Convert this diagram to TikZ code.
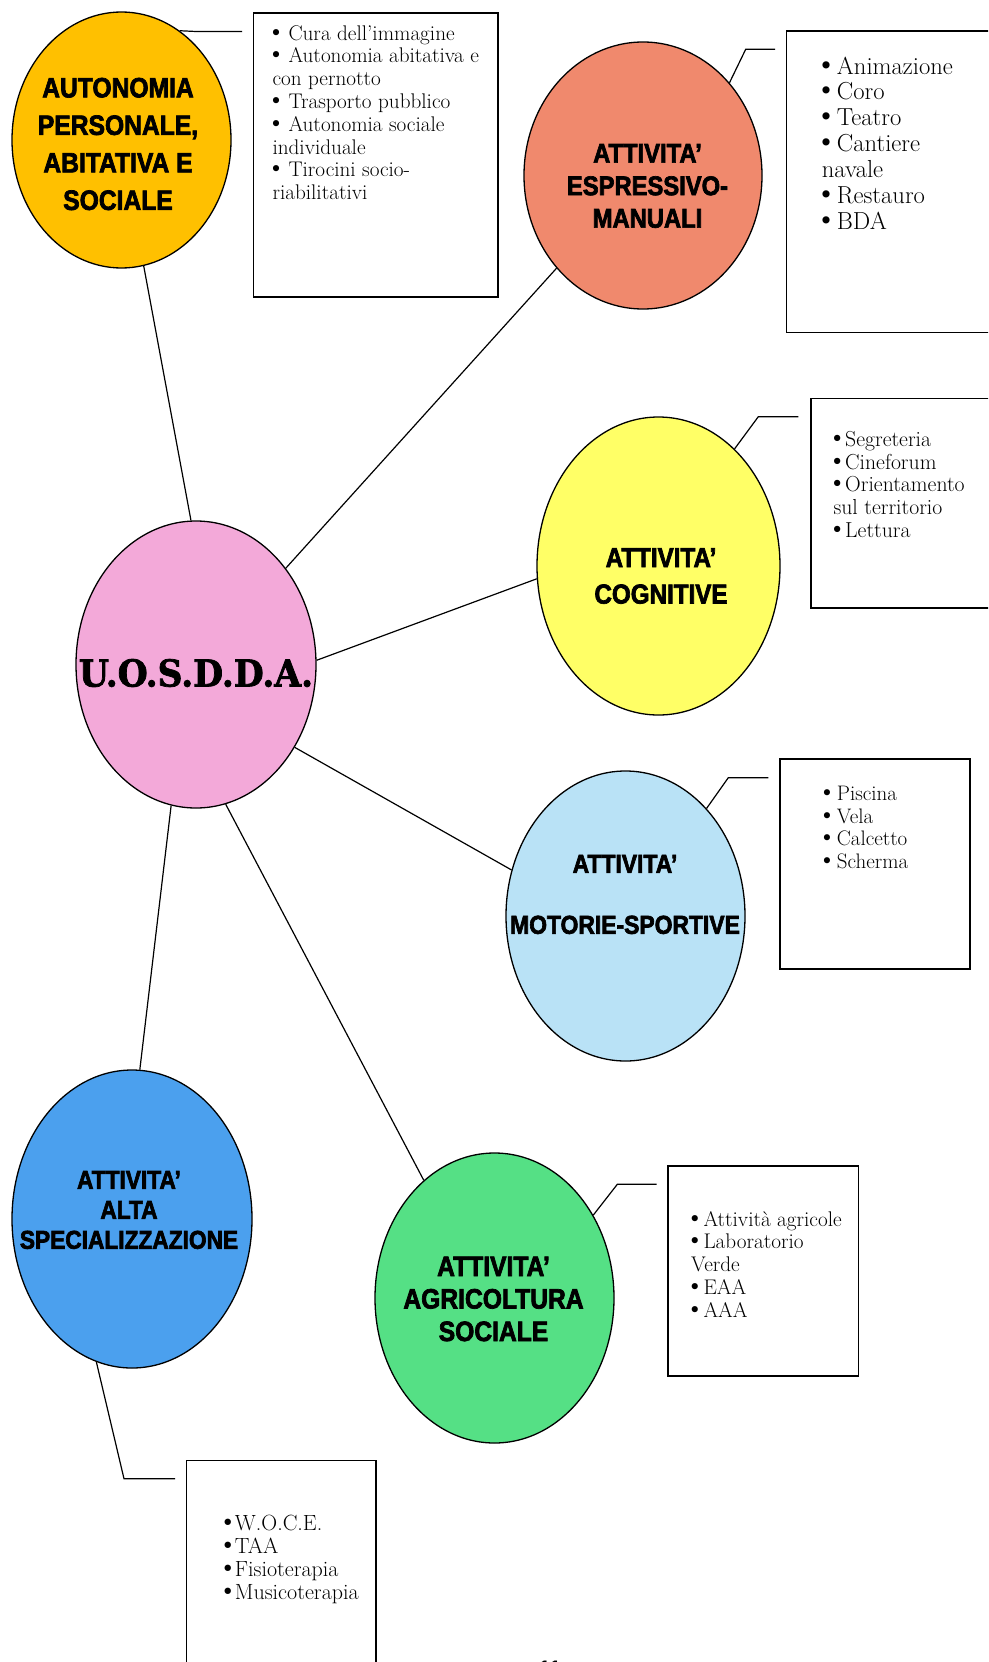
\documentclass[tikz,border=0pt]{standalone}
\usepackage{fontspec}
\usetikzlibrary{shapes.geometric}
\newfontfamily\headfont[FakeStretch=0.88, BoldFeatures={FakeBold=2.5}]{Liberation Sans}
\newfontfamily\uosfont[FakeStretch=0.93, BoldFeatures={FakeBold=2}]{DejaVu Serif}
\newfontfamily\pnfont{Liberation Sans}
\newfontfamily\bulfont{DejaVu Serif}
\newcommand\bul[1]{\makebox[#1][l]{\bulfont\kern-0.12em •}}
\definecolor{cAuto}{HTML}{FFC000}
\definecolor{cEsp}{HTML}{F0896D}
\definecolor{cCog}{HTML}{FFFF66}
\definecolor{cMot}{HTML}{B9E2F6}
\definecolor{cAgr}{HTML}{55E085}
\definecolor{cAlta}{HTML}{4BA0EE}
\definecolor{cUos}{HTML}{F3A9D9}
\tikzset{
  bubble/.style={ellipse, draw=black, line width=1.3pt, inner sep=0pt},
  infobox/.style={rectangle, draw=black, line width=1.6pt, inner sep=0pt, anchor=north west},
  link/.style={draw=black, line width=1.2pt},
  head/.style={align=center, anchor=center, inner sep=0pt},
  items/.style={align=left, anchor=north west, inner sep=0pt},
}
\begin{document}
\begin{tikzpicture}[x=1pt,y=-1pt]
\useasboundingbox (0,0) rectangle (988,1662);
\clip (0,0) rectangle (988,1662);
\fill[white] (0,0) rectangle (988,1662);

% ellipses
\node[bubble, fill=cAuto, minimum width=219pt, minimum height=256pt] (auto) at (121.5,140) {};
\node[bubble, fill=cEsp, minimum width=238pt, minimum height=267pt] (esp) at (643,175.5) {};
\node[bubble, fill=cCog, minimum width=243pt, minimum height=298pt] (cog) at (658.5,566) {};
\node[bubble, fill=cMot, minimum width=239pt, minimum height=290pt] (mot) at (625.5,916) {};
\node[bubble, fill=cAgr, minimum width=239pt, minimum height=290pt] (agr) at (494.5,1298) {};
\node[bubble, fill=cAlta, minimum width=240pt, minimum height=298pt] (alta) at (132,1219) {};
\node[bubble, fill=cUos, minimum width=240pt, minimum height=287pt] (uos) at (196,664.5) {};

% connectors from the centre
\draw[link] (uos.92) -- (auto.-80);
\draw[link] (uos.47.6) -- (esp.227.3);
\draw[link] (uos.2.6) -- (cog.186);
\draw[link] (uos.-40.9) -- (mot.158.3);
\draw[link] (uos.-78.8) -- (agr.121.7);
\draw[link] (uos.-100.8) -- (alta.87.7);

% boxes
\node[infobox, minimum width=244.3pt, minimum height=284pt] (box1) at (252.7,12) {};
\node[infobox, minimum width=230pt, minimum height=301.7pt] (box2) at (785.7,30) {};
\node[infobox, minimum width=200pt, minimum height=209.8pt] (box3) at (810,397.5) {};
\node[infobox, minimum width=190.3pt, minimum height=210pt] (box4) at (779,758.3) {};
\node[infobox, minimum width=190.4pt, minimum height=210pt] (box5) at (667.3,1165) {};
\node[infobox, minimum width=189.5pt, minimum height=260pt] (box6) at (185.5,1459.6) {};

% callout lines
\coordinate (k1) at (196,31.5);   \coordinate (e1) at (242,31.5);
\coordinate (k2) at (745.7,49.3); \coordinate (e2) at (775,49.3);
\coordinate (k3) at (758.3,416.7); \coordinate (e3) at (798.3,416.7);
\coordinate (k4) at (728.3,777.7); \coordinate (e4) at (768.3,777.7);
\coordinate (k5) at (617.3,1184.3); \coordinate (e5) at (656.7,1184.3);
\coordinate (k6) at (124,1478.7); \coordinate (e6) at (175,1478.7);
\draw[link] (auto.62) -- (k1) -- (e1);
\draw[link] (esp.47.4) -- (k2) -- (e2);
\draw[link] (cog.57.6) -- (k3) -- (e3);
\draw[link] (mot.53.8) -- (k4) -- (e4);
\draw[link] (agr.40.5) -- (k5) -- (e5);
\draw[link] (alta.256.2) -- (k6) -- (e6);

% headings
\node[head, font={\headfont\bfseries\fontsize{28}{37.5}\selectfont}] (tAuto) at (118,144)
  {AUTONOMIA\\PERSONALE,\\ABITATIVA E\\SOCIALE};
\node[head, font={\headfont\bfseries\fontsize{27}{32.5}\selectfont}] (tEsp) at (647.5,186)
  {ATTIVITA’\\ESPRESSIVO-\\MANUALI};
\node[head, font={\headfont\bfseries\fontsize{27.5}{36.5}\selectfont}] (tCog) at (661,576)
  {ATTIVITA’\\COGNITIVE};
\node[head, font={\headfont\bfseries\fontsize{26}{30.5}\selectfont}] (tMot) at (625,894.5)
  {ATTIVITA’\\[30.5pt]MOTORIE-SPORTIVE};
\node[head, font={\headfont\bfseries\fontsize{28}{32.5}\selectfont}] (tAgr) at (493.5,1299)
  {ATTIVITA’\\AGRICOLTURA\\SOCIALE};
\node[head, font={\headfont\bfseries\fontsize{25.8}{30}\selectfont}] (tAlta) at (129,1210)
  {ATTIVITA’\\ALTA\\SPECIALIZZAZIONE};
\node[head, font={\uosfont\bfseries\fontsize{37}{40}\selectfont}] (tUos) at (196,673)
  {U.O.S.D.D.A.};

% item lists
\node[items, font={\fontsize{21.2}{22.8}\selectfont}] (l1) at (272.3,25)
  {\bul{16pt}Cura dell’immagine\\
   \bul{16pt}Autonomia abitativa e\\
   con pernotto\\
   \bul{16pt}Trasporto pubblico\\
   \bul{16pt}Autonomia sociale\\
   individuale\\
   \bul{16pt}Tirocini socio-\\
   riabilitativi};
\node[items, font={\fontsize{24.6}{25.9}\selectfont}] (l2) at (821.7,56.5)
  {\bul{15pt}Animazione\\
   \bul{15pt}Coro\\
   \bul{15pt}Teatro\\
   \bul{15pt}Cantiere\\
   navale\\
   \bul{15pt}Restauro\\
   \bul{15pt}BDA};
\node[items, font={\fontsize{21.7}{22.8}\selectfont}] (l3) at (833.3,431)
  {\bul{11.7pt}Segreteria\\
   \bul{11.7pt}Cineforum\\
   \bul{11.7pt}Orientamento\\
   sul territorio\\
   \bul{11.7pt}Lettura};
\node[items, font={\fontsize{21}{22.6}\selectfont}] (l4) at (823.3,786)
  {\bul{13.4pt}Piscina\\
   \bul{13.4pt}Vela\\
   \bul{13.4pt}Calcetto\\
   \bul{13.4pt}Scherma};
\node[items, font={\fontsize{21.2}{22.7}\selectfont}] (l5) at (691,1211)
  {\bul{12.3pt}Attività agricole\\
   \bul{12.3pt}Laboratorio\\
   Verde\\
   \bul{12.3pt}EAA\\
   \bul{12.3pt}AAA};
\node[items, font={\fontsize{22}{23}\selectfont}] (l6) at (223.7,1515)
  {\bul{11pt}W.O.C.E.\\
   \bul{11pt}TAA\\
   \bul{11pt}Fisioterapia\\
   \bul{11pt}Musicoterapia};

% page number (cut by the page edge)
\node[anchor=base, inner sep=0pt, font={\pnfont\bfseries\fontsize{21}{24}\selectfont}] (pn) at (550,1675) {11};
\end{tikzpicture}
\end{document}
